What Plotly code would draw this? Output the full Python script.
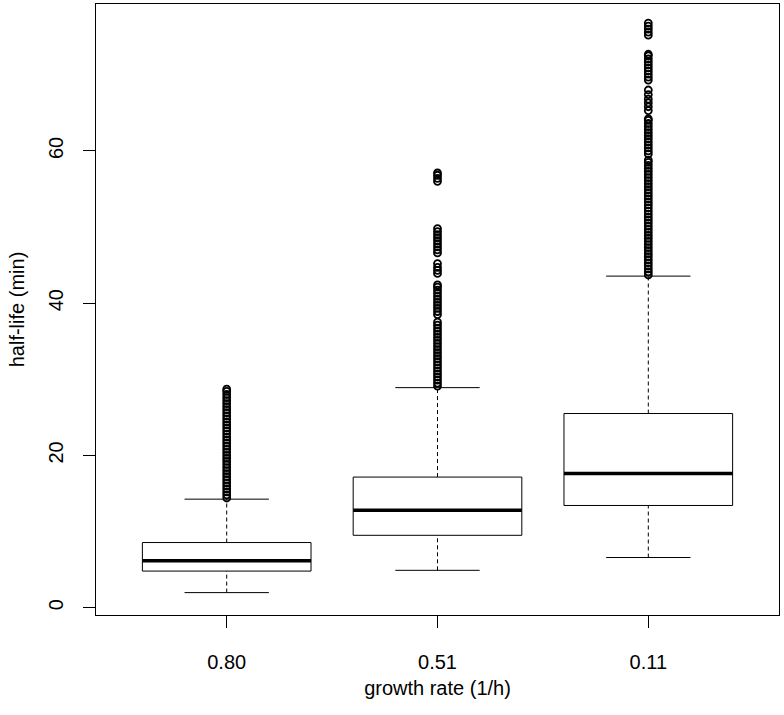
import plotly.graph_objects as go

categories = ["0.80", "0.51", "0.11"]
q1 = [4.80, 9.50, 13.42]
median = [6.15, 12.80, 17.63]
q3 = [8.55, 17.15, 25.50]
whisker_low = [1.97, 4.90, 6.58]
whisker_high = [14.25, 28.90, 43.55]

outliers_080 = [14.4, 14.8, 15.2, 15.6, 16.0, 16.4, 16.8, 17.2, 17.6, 18.0, 18.4,
                18.8, 19.2, 19.6, 20.0, 20.4, 20.8, 21.2, 21.6, 22.0, 22.4, 22.8,
                23.2, 23.6, 24.0, 24.4, 24.8, 25.2, 25.6, 26.0, 26.4, 26.8, 27.2,
                27.6, 28.0, 28.4, 28.7]
outliers_051 = [29.1, 29.5, 29.9, 30.3, 30.7, 31.1, 31.5, 31.9, 32.3, 32.7, 33.1,
                33.5, 33.9, 34.3, 34.7, 35.1, 35.5, 35.9, 36.3, 36.7, 37.1, 37.5,
                38.5, 38.9, 39.3, 39.7, 40.1, 40.5, 40.9, 41.3, 41.7, 42.1, 42.4,
                43.9, 44.3, 44.7, 45.2,
                46.6, 47.0, 47.4, 47.8, 48.2, 48.6, 49.0, 49.4, 49.8,
                56.0, 56.4, 56.8, 57.1]
outliers_011 = [43.7, 44.1, 44.5, 44.9, 45.3, 45.7, 46.1, 46.5, 46.9, 47.3, 47.7,
                48.1, 48.5, 48.9, 49.3, 49.7, 50.1, 50.5, 50.9, 51.3, 51.7, 52.1,
                52.5, 52.9, 53.3, 53.7, 54.1, 54.5, 54.9, 55.3, 55.7, 56.1, 56.5,
                56.9, 57.3, 57.7, 58.1, 58.5, 58.8,
                59.6, 60.0, 60.4, 60.8, 61.2, 61.6, 62.0, 62.4, 62.8, 63.2, 63.6,
                64.0, 64.2,
                65.3, 65.8, 66.3,
                66.8, 67.4, 68.0,
                69.3, 69.7, 70.1, 70.5, 70.9, 71.3, 71.7, 72.1, 72.5, 72.7,
                75.2, 75.6, 76.0, 76.4, 76.8]
outliers = [outliers_080, outliers_051, outliers_011]

BOX_HALF = 0.4
STAPLE_HALF = 0.2
fig = go.Figure()

for i in range(len(categories)):
    x0 = i + 1
    # whiskers (dashed)
    fig.add_trace(go.Scatter(
        x=[x0, x0, None, x0, x0], y=[whisker_low[i], q1[i], None, q3[i], whisker_high[i]],
        mode="lines", line=dict(color="black", width=1, dash="4px,3px"),
        hoverinfo="skip", showlegend=False))
    # staples
    fig.add_trace(go.Scatter(
        x=[x0 - STAPLE_HALF, x0 + STAPLE_HALF, None, x0 - STAPLE_HALF, x0 + STAPLE_HALF],
        y=[whisker_low[i], whisker_low[i], None, whisker_high[i], whisker_high[i]],
        mode="lines", line=dict(color="black", width=1),
        hoverinfo="skip", showlegend=False))
    # box
    fig.add_trace(go.Scatter(
        x=[x0 - BOX_HALF, x0 + BOX_HALF, x0 + BOX_HALF, x0 - BOX_HALF, x0 - BOX_HALF],
        y=[q1[i], q1[i], q3[i], q3[i], q1[i]],
        mode="lines", line=dict(color="black", width=1),
        hoverinfo="skip", showlegend=False))
    # median
    fig.add_trace(go.Scatter(
        x=[x0 - BOX_HALF, x0 + BOX_HALF], y=[median[i], median[i]],
        mode="lines", line=dict(color="black", width=3.5),
        hoverinfo="skip", showlegend=False))
    # outliers
    fig.add_trace(go.Scatter(
        x=[x0] * len(outliers[i]), y=outliers[i], mode="markers",
        marker=dict(symbol="circle-open", size=7, color="black", line=dict(width=1.8)),
        hoverinfo="y", showlegend=False))

font = "Liberation Sans, Arial, Helvetica, sans-serif"
fig.update_layout(
    width=784, height=715,
    margin=dict(l=96, r=5, t=4, b=100, autoexpand=False),
    paper_bgcolor="white", plot_bgcolor="white",
    font=dict(family=font, size=20, color="black"),
    showlegend=False,
    xaxis=dict(
        range=[0.38, 3.62], tickmode="array", tickvals=[1, 2, 3], ticktext=categories,
        showgrid=False, zeroline=False, showline=True, mirror=True, automargin=False,
        linecolor="black", linewidth=1, ticks="outside", ticklen=12, tickcolor="black",
        tickfont=dict(size=20), ticklabelstandoff=17,
        title=dict(text="growth rate (1/h)", font=dict(size=20), standoff=8)),
    yaxis=dict(
        range=[-0.97, 79.3], tickmode="array", tickvals=[0, 20, 40, 60],
        ticktext=["0", "20", "40", "60"], tickangle=-90,
        showgrid=False, zeroline=False, showline=True, mirror=True, automargin=False,
        linecolor="black", linewidth=1, ticks="outside", ticklen=12, tickcolor="black",
        tickfont=dict(size=20), ticklabelstandoff=12,
        title=dict(text="half-life (min)", font=dict(size=20), standoff=15)),
)

fig.write_html(
    "out.html",
    config={"displayModeBar": False},
    post_script="document.body.style.margin='0';document.body.style.overflow='hidden';",
)
